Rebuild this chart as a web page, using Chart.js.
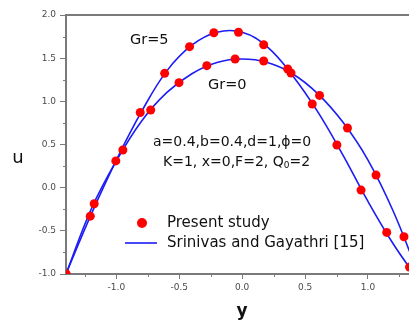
<!DOCTYPE html>
<html>
<head>
<meta charset="utf-8">
<script src="https://cdn.jsdelivr.net/npm/chart.js@4/dist/chart.umd.min.js"></script>
<style>
html,body{margin:0;padding:0;background:#fff;}
#wrap{width:409px;height:321px;position:relative;}
</style>
</head>
<body>
<div id="wrap"><canvas id="c" width="409" height="321"></canvas></div>
<script>
// Reference curves (Srinivas and Gayathri [15])
const lineY = [-1.4, -1.2, -1.0, -0.8, -0.6, -0.4, -0.2, 0.0, 0.2, 0.4, 0.6, 0.8, 1.0, 1.2, 1.4];
const lineGr5 = [-1.0, -0.31, 0.32, 0.88, 1.35, 1.65, 1.80, 1.80, 1.63, 1.30, 0.88, 0.38, -0.16, -0.65, -1.07];
const lineGr0 = [-1.0, -0.25, 0.31, 0.77, 1.10, 1.32, 1.45, 1.49, 1.45, 1.32, 1.09, 0.76, 0.32, -0.27, -1.0];

// Present study points
const dotYGr5 = [-1.4, -1.207, -1.004, -0.81, -0.616, -0.418, -0.225, -0.029, 0.171, 0.362, 0.557, 0.753, 0.945, 1.149, 1.33];
const dotUGr5 = [-1.0, -0.33, 0.31, 0.87, 1.324, 1.633, 1.795, 1.80, 1.656, 1.374, 0.969, 0.494, -0.028, -0.518, -0.92];
const dotYGr0 = [-1.4, -1.176, -0.948, -0.727, -0.502, -0.281, -0.056, 0.171, 0.388, 0.615, 0.837, 1.064, 1.286];
const dotUGr0 = [-1.0, -0.186, 0.436, 0.899, 1.216, 1.413, 1.490, 1.467, 1.328, 1.069, 0.691, 0.146, -0.569];

// Axis ticks
const xTicks = [-1.0, -0.5, 0.0, 0.5, 1.0];
const xMinor = [-1.25, -0.75, -0.25, 0.25, 0.75, 1.25];
const yTicks = [-1.0, -0.5, 0.0, 0.5, 1.0, 1.5, 2.0];
const yMinor = [-0.75, -0.25, 0.25, 0.75, 1.25, 1.75];

const pts = (xs, ys) => xs.map((x, i) => ({x: x, y: ys[i]}));

const BLUE = '#1c1cf5';
const RED = '#ff0000';
const AXIS = '#7a7a7a';
const TXT = '#111';
const FONT = '"DejaVu Sans", sans-serif';

const decor = {
  id: 'decor',
  afterDraw(chart) {
    const ctx = chart.ctx;
    const a = chart.chartArea;
    const xs = chart.scales.x, ys = chart.scales.y;
    ctx.save();
    // top frame
    ctx.strokeStyle = AXIS;
    ctx.lineWidth = 2;
    ctx.beginPath();
    ctx.moveTo(a.left - 1, a.top);
    ctx.lineTo(chart.width, a.top);
    ctx.stroke();
    // minor ticks
    ctx.lineWidth = 1;
    xMinor.forEach(v => {
      const px = Math.round(xs.getPixelForValue(v)) + 0.5;
      ctx.beginPath(); ctx.moveTo(px, a.bottom); ctx.lineTo(px, a.bottom + 3); ctx.stroke();
    });
    yMinor.forEach(v => {
      const py = Math.round(ys.getPixelForValue(v)) + 0.5;
      ctx.beginPath(); ctx.moveTo(a.left - 3, py); ctx.lineTo(a.left, py); ctx.stroke();
    });
    // axis titles
    ctx.fillStyle = TXT;
    ctx.textBaseline = 'middle';
    ctx.textAlign = 'center';
    ctx.font = '18px ' + FONT;
    ctx.fillText('u', 18, 158);
    ctx.font = 'bold 17px ' + FONT;
    ctx.textBaseline = 'alphabetic';
    ctx.fillText('y', 242, 316);
    // annotations
    ctx.textAlign = 'left';
    ctx.textBaseline = 'middle';
    ctx.font = '14.5px ' + FONT;
    ctx.fillText('Gr=5', 130, 40);
    ctx.fillText('Gr=0', 208, 85);
    ctx.font = '14px ' + FONT;
    ctx.fillText('a=0.4,b=0.4,d=1,\u03D5=0', 153, 142);
    let s1 = 'K=1, x=0,F=2, Q';
    let x0 = 163;
    ctx.fillText(s1, x0, 162);
    let w1 = ctx.measureText(s1).width;
    ctx.font = '9px ' + FONT;
    ctx.fillText('0', x0 + w1, 166);
    let w2 = ctx.measureText('0').width;
    ctx.font = '14px ' + FONT;
    ctx.fillText('=2', x0 + w1 + w2, 162);
    // legend
    ctx.fillStyle = RED;
    ctx.beginPath(); ctx.arc(142, 223, 5, 0, Math.PI * 2); ctx.fill();
    ctx.strokeStyle = BLUE; ctx.lineWidth = 1.6;
    ctx.beginPath(); ctx.moveTo(125, 243); ctx.lineTo(157, 243); ctx.stroke();
    ctx.fillStyle = TXT;
    ctx.font = '15px ' + FONT;
    ctx.fillText('Present study', 167, 223);
    ctx.fillText('Srinivas and Gayathri [15]', 167, 243);
    ctx.restore();
  }
};

new Chart(document.getElementById('c'), {
  type: 'scatter',
  data: {
    datasets: [
      {label: 'Present study Gr=5', data: pts(dotYGr5, dotUGr5), pointRadius: 4.5, pointBackgroundColor: RED, pointBorderWidth: 0, showLine: false, clip: 0},
      {label: 'Present study Gr=0', data: pts(dotYGr0, dotUGr0), pointRadius: 4.5, pointBackgroundColor: RED, pointBorderWidth: 0, showLine: false, clip: 0},
      {label: 'Gr=5', data: pts(lineY, lineGr5), showLine: true, pointRadius: 0, borderColor: BLUE, borderWidth: 1.6, tension: 0.4, clip: 0},
      {label: 'Gr=0', data: pts(lineY, lineGr0), showLine: true, pointRadius: 0, borderColor: BLUE, borderWidth: 1.6, tension: 0.4, clip: 0}
    ]
  },
  options: {
    responsive: false,
    animation: false,
    events: [],
    layout: {autoPadding: false, padding: {top: 15, right: 0, left: 0, bottom: 0}},
    plugins: {legend: {display: false}, tooltip: {enabled: false}},
    scales: {
      x: {
        type: 'linear', min: -1.4, max: 1.326,
        afterBuildTicks: s => { s.ticks = xTicks.map(v => ({value: v})); },
        afterFit: s => { s.height = 47; s.paddingRight = 0; s.paddingLeft = 0; },
        grid: {drawOnChartArea: false, drawTicks: true, tickLength: 5, tickColor: AXIS, tickWidth: 1},
        border: {display: true, color: AXIS, width: 2},
        ticks: {padding: 3, color: '#4a4a4a', font: {family: FONT, size: 9}, maxRotation: 0, callback: v => Number(v).toFixed(1)}
      },
      y: {
        type: 'linear', min: -1.0, max: 2.0,
        afterBuildTicks: s => { s.ticks = yTicks.map(v => ({value: v})); },
        afterFit: s => { s.width = 66; s.paddingTop = 0; s.paddingBottom = 0; },
        grid: {drawOnChartArea: false, drawTicks: true, tickLength: 6, tickColor: AXIS, tickWidth: 1},
        border: {display: true, color: AXIS, width: 2},
        ticks: {padding: 4, color: '#4a4a4a', font: {family: FONT, size: 9}, callback: v => Number(v).toFixed(1)}
      }
    }
  },
  plugins: [decor]
});
</script>
</body>
</html>
